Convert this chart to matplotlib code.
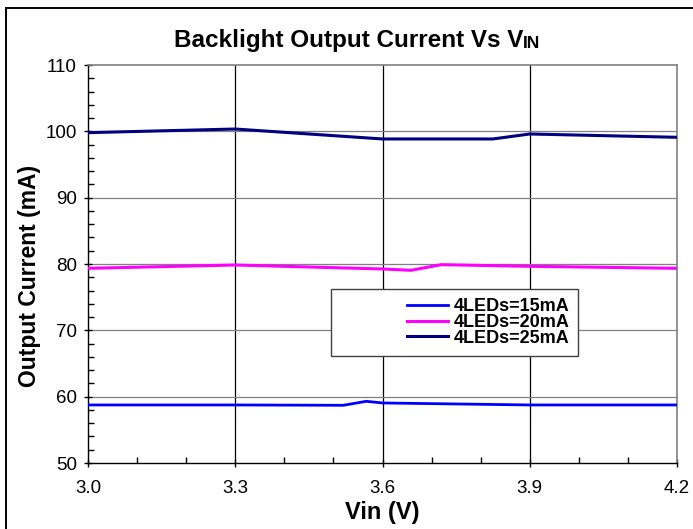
import matplotlib
matplotlib.use("Agg")
import matplotlib.pyplot as plt
from matplotlib.offsetbox import TextArea, HPacker, AnnotationBbox
from matplotlib.patches import Rectangle
from matplotlib.legend_handler import HandlerLine2D
from matplotlib.ticker import MultipleLocator

plt.rcParams['font.family'] = ['Liberation Sans', 'DejaVu Sans']

# Data
x_15 = [3.0, 3.3, 3.52, 3.567, 3.6, 3.9, 4.2]
y_15 = [58.75, 58.75, 58.7, 59.3, 59.05, 58.75, 58.75]
x_20 = [3.0, 3.3, 3.6, 3.658, 3.72, 3.9, 4.2]
y_20 = [79.35, 79.85, 79.25, 79.05, 79.9, 79.65, 79.35]
x_25 = [3.0, 3.3, 3.6, 3.825, 3.9, 4.2]
y_25 = [99.8, 100.35, 98.85, 98.85, 99.6, 99.1]
labels = ["4LEDs=15mA", "4LEDs=20mA", "4LEDs=25mA"]
x_ticks = [3.0, 3.3, 3.6, 3.9, 4.2]
y_ticks = [50, 60, 70, 80, 90, 100, 110]


class RightLineHandler(HandlerLine2D):
    """Draw the legend line only in the right part of the handle box."""
    seg_pt = 29.5

    def create_artists(self, legend, orig_handle, xdescent, ydescent,
                       width, height, fontsize, trans):
        arts = super().create_artists(legend, orig_handle, xdescent, ydescent,
                                      width, height, fontsize, trans)
        for a in arts:
            xd = a.get_xdata()
            if len(xd) >= 2:
                x1 = width - xdescent
                a.set_xdata([x1 - self.seg_pt, x1])
                a.set_ydata([a.get_ydata()[0]] * 2)
        return arts


W, H = 693, 529
fig = plt.figure(figsize=(W / 100, H / 100), dpi=100)
ax = fig.add_axes([88 / W, (H - 463) / H, (677 - 88) / W, (463 - 65) / H])

l15, = ax.plot(x_15, y_15, color='#0000FF', lw=2.0, label=labels[0], zorder=3)
l20, = ax.plot(x_20, y_20, color='#FF00FF', lw=2.2, label=labels[1], zorder=3)
l25, = ax.plot(x_25, y_25, color='#000080', lw=2.2, label=labels[2], zorder=3)

ax.set_xlim(3.0, 4.2)
ax.set_ylim(50, 110)
ax.set_xticks(x_ticks)
ax.set_xticklabels([f"{v:.1f}" for v in x_ticks])
ax.set_yticks(y_ticks)
ax.xaxis.set_minor_locator(MultipleLocator(0.1))
ax.yaxis.set_minor_locator(MultipleLocator(2))

ax.tick_params(axis='both', which='major', direction='inout', length=6, width=1,
               labelsize=13.5, colors='black')
ax.tick_params(axis='x', which='major', pad=9)
ax.tick_params(axis='y', which='major', pad=5)
ax.tick_params(axis='both', which='minor', direction='in', length=4, width=1)

# grid
for xv in x_ticks[1:-1]:
    ax.axvline(xv, color='black', lw=0.9, zorder=1)
for yv in y_ticks[1:-1]:
    ax.axhline(yv, color='#808080', lw=0.9, zorder=1)

for s in ['left', 'bottom']:
    ax.spines[s].set_color('black')
    ax.spines[s].set_linewidth(1.0)
for s in ['top', 'right']:
    ax.spines[s].set_color('#808080')
    ax.spines[s].set_linewidth(1.2)

ax.set_ylabel("Output Current (mA)", fontsize=16.5, fontweight='bold')
ax.yaxis.set_label_coords(-0.08, 0.47)
ax.set_xlabel("Vin (V)", fontsize=17, fontweight='bold')
ax.xaxis.set_label_coords(0.5, -0.095)

handler = RightLineHandler()
leg = ax.legend(handles=[l15, l20, l25], loc='upper left',
                bbox_to_anchor=(0.4126, 0.437), frameon=True,
                fancybox=False, edgecolor='#404040', framealpha=1,
                prop={'weight': 'bold', 'size': 13}, handlelength=6.0,
                handletextpad=0.28, labelspacing=-0.07, borderpad=0.5,
                borderaxespad=0,
                handler_map={l15: handler, l20: handler, l25: handler})
leg.get_frame().set_linewidth(1.0)

# title with small-caps "IN"
t1 = TextArea("Backlight Output Current Vs V",
              textprops=dict(fontsize=17.5, fontweight='bold', color='black'))
t2 = TextArea("IN", textprops=dict(fontsize=12.5, fontweight='bold', color='black'))
pack = HPacker(children=[t1, t2], align='baseline', pad=0, sep=0)
ab = AnnotationBbox(pack, (357 / W, 1 - 41 / H), xycoords='figure fraction',
                    frameon=False, box_alignment=(0.5, 0.5))
fig.add_artist(ab)

# outer border
fig.add_artist(Rectangle((6 / W, -0.05), 1.0, 1 - 8 / H + 0.05,
                         transform=fig.transFigure, fill=False,
                         edgecolor='black', lw=1.4))

fig.savefig("out.png", dpi=100)
